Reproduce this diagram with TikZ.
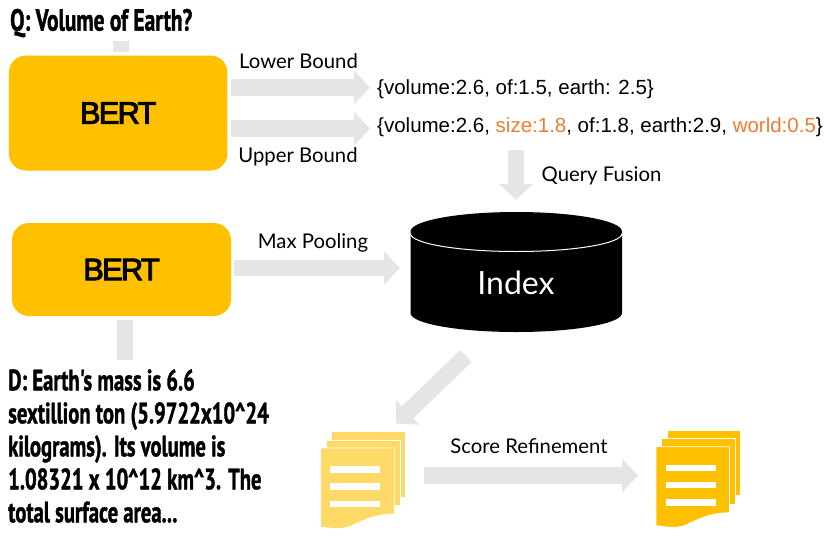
\documentclass[tikz,border=0pt]{standalone}
\usepackage{fontspec}
\usetikzlibrary{arrows.meta}
\setmainfont{Lato}
\newfontfamily\condensed[FakeStretch=0.7,FakeBold=1.2]{PT Sans}
\newfontfamily\helv{Liberation Sans}
\newfontfamily\modelfont[LetterSpace=-6,FakeBold=3]{Liberation Sans}
\definecolor{gold}{HTML}{FFC000}
\definecolor{paleGold}{HTML}{FFD966}
\definecolor{flowGrey}{HTML}{E5E5E5}
\definecolor{termOrange}{HTML}{ED7D31}
\tikzset{
  x=1pt,y=-1pt,
  modelbox/.style={fill=gold,rounded corners=17pt,inner sep=0pt,font=\modelfont\fontsize{31}{31}\selectfont},
  flow/.style={draw=flowGrey,line width=16.5pt,-{Triangle[length=16pt,width=33pt,fill=flowGrey]}},
  stub/.style={draw=flowGrey,line width=16pt},
  caption/.style={font=\fontsize{20.3}{24}\selectfont,inner sep=0pt,anchor=base},
  terms/.style={font=\helv\fontsize{20.5}{24}\selectfont,inner sep=0pt,anchor=base west},
  passage/.style={font=\condensed\bfseries\fontsize{29.5}{33}\selectfont,inner sep=0pt,anchor=west,align=left},
  pics/docstack/.style={code={
    \foreach \dx/\dy in {11/-16.5,5.8/-8}{
      \fill[#1,draw=white,line width=.7pt] (\dx,\dy) -- ++(73.5,0) -- ++(0,65.5) -- ++(-73.5,0) -- cycle;
    }
    \fill[#1,draw=white,line width=.7pt] (0,0) -- (73.5,0) -- (73.5,66)
      .. controls (52,66) and (40,74) .. (28,79)
      .. controls (18,82) and (10,80) .. (0,79) -- cycle;
    \foreach \ly in {18,35,52.5}{
      \fill[white] (9.5,\ly) rectangle ++(50,6.6);
    }
  }}
}
\begin{document}
\begin{tikzpicture}
\useasboundingbox (0,0) rectangle (830,544);

% encoders
\node[modelbox,minimum width=218.5pt,minimum height=115pt] (bertq) at (118.2,113) {BERT};
\node[modelbox,minimum width=219pt,minimum height=93pt] (bertd) at (121.5,269.5) {BERT};

% question and passage
\node[passage,font=\condensed\bfseries\fontsize{30.6}{33}\selectfont] (query) at (10,23) {Q: Volume of Earth?};
\node[passage] (passage) at (8,446) {D: Earth's mass is 6.6\\sextillion ton (5.9722x10\^{}24\\kilograms). Its volume is\\1.08321 x 10\^{}12 km\^{}3. The\\total surface area...};

% inverted index
\fill (410.5,231.5) -- (410.5,313) arc[start angle=180,end angle=360,x radius=105.75pt,y radius=19pt] -- (622,231.5)
  arc[start angle=0,end angle=180,x radius=105.75pt,y radius=19.5pt] -- cycle;
\draw[white,line width=1pt] (410.5,233.5) arc[start angle=180,end angle=360,x radius=105.75pt,y radius=18pt];
\node[font=\fontsize{32}{32}\selectfont,text=white,inner sep=0pt,anchor=base] (index) at (516,294) {Index};

% expanded term weights
\node[terms] (lower) at (377,94) {\{volume:2.6, of:1.5, earth: 2.5\}};
\node[terms] (upper) at (377,132) {\{volume:2.6, \textcolor{termOrange}{size:1.8}, of:1.8, earth:2.9, \textcolor{termOrange}{world:0.5}\}};

% flow labels
\node[caption] (lowerlabel) at (298.5,68) {Lower Bound};
\node[caption] (upperlabel) at (298,162) {Upper Bound};
\node[caption] (fusionlabel) at (601.5,181) {Query Fusion};
\node[caption] (poollabel) at (313,248.5) {Max Pooling};
\node[caption] (refinelabel) at (529,453) {Score Refinement};

% retrieved and refined documents
\pic at (320.7,448) {docstack=paleGold};
\pic at (656,446.7) {docstack=gold};

% connector end points
\coordinate (qs) at (121,41);
\coordinate (qe) at (121,52);
\coordinate (ds) at (125,320);
\coordinate (de) at (125,360);
\coordinate (ls) at (231,87.5);
\coordinate (le) at (370,87.5);
\coordinate (us) at (231,128.5);
\coordinate (ue) at (370,128.5);
\coordinate (fs) at (516,150);
\coordinate (fe) at (516,200);
\coordinate (ps) at (234,268);
\coordinate (pe) at (400,268);
\coordinate (rs) at (466,356);
\coordinate (re) at (396,423.5);
\coordinate (ss) at (424,475.5);
\coordinate (se) at (638,475.5);

\draw[stub] (qs) -- (qe);
\draw[stub] (ds) -- (de);
\draw[flow] (ls) -- (le);
\draw[flow] (us) -- (ue);
\draw[flow] (fs) -- (fe);
\draw[flow] (ps) -- (pe);
\draw[flow] (rs) -- (re);
\draw[flow] (ss) -- (se);
\end{tikzpicture}
\end{document}
